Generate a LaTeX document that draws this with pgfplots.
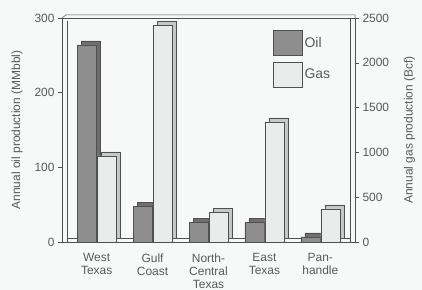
\documentclass[border=0pt]{standalone}
\usepackage{pgfplots}
\pgfplotsset{compat=1.18}
\usepackage{fontspec}
\setmainfont{Liberation Sans}
\definecolor{txt}{HTML}{5A5A5A}
\definecolor{oilc}{HTML}{8E8E8E}
\definecolor{oilside}{HTML}{6E6E6E}
\definecolor{gasc}{HTML}{E8ECEA}
\definecolor{gasside}{HTML}{C4C8C6}
\definecolor{bg}{HTML}{F6F9F7}
\definecolor{edge}{HTML}{505050}
\begin{document}
\begin{tikzpicture}
\fill[bg] (-62bp,-48bp) rectangle (360bp,242bp);
\path[use as bounding box] (-62bp,-48bp) rectangle (360bp,242bp);
\pgfplotsset{
  common/.style={
    at={(0,0)}, anchor=south west,
    width=293bp, height=224bp, scale only axis,
    xmin=-0.62, xmax=4.62, ymin=0,
    xtick={0,1,2,3,4}, clip=false,
    axis line style={edge, line width=0.8pt},
    tick style={edge, line width=0.6pt},
    tick align=outside,
    major tick length=4bp,
    ticklabel style={font=\fontsize{12}{13}\selectfont, text=txt},
    label style={font=\fontsize{12}{13}\selectfont, text=txt},
    /pgf/number format/assume math mode=true,
    /pgf/number format/1000 sep={},
    ybar, bar width=19bp,
  }
}
\begin{axis}[common,
  ymax=300, ytick={0,100,200,300},
  axis y line*=left, axis x line*=bottom,
  xtick style={draw=none},
  xticklabels={West\\Texas, Gulf\\Coast, North-\\Central\\Texas, East\\Texas, Pan-\\handle},
  xticklabel style={align=center, font=\fontsize{12}{13}\selectfont, text=txt, yshift=-4bp},
  ylabel={Annual oil production (MMbbl)},
  ylabel style={yshift=5bp},
]
\draw[edge, line width=0.5pt] ([xshift=5bp]rel axis cs:0,0) -- ([xshift=5bp,yshift=-3bp]rel axis cs:0,1);
\draw[edge, line width=0.5pt] ([xshift=5bp,yshift=4bp]rel axis cs:0,0) -- ([xshift=-5bp,yshift=4bp]rel axis cs:1,0);
\draw[edge, line width=0.5pt] (rel axis cs:0,1) -- ([xshift=4bp,yshift=3bp]rel axis cs:0,1) -- ([yshift=3bp]rel axis cs:1,1) -- (rel axis cs:1,1);
\addplot[fill=oilside, draw=edge, line width=0.4pt, bar shift=-6bp, yshift=4bp] coordinates {(0,264) (1,48) (2,26) (3,26) (4,7)};
\addplot[fill=oilc, draw=edge, line width=0.4pt, bar shift=-10bp] coordinates {(0,264) (1,48) (2,26) (3,26) (4,7)};
\end{axis}
\begin{axis}[common,
  ymax=2500, ytick={0,500,1000,1500,2000,2500},
  axis y line*=right, axis x line*=top,
  xticklabels={}, xtick style={draw=none},
  ylabel={Annual gas production (Bcf)},
  ylabel style={yshift=-8bp},
  legend style={at={(0.71,0.955)}, anchor=north west, draw=none, fill=none,
    font=\fontsize{14}{16}\selectfont, text=txt, row sep=6bp,
    /tikz/every even column/.append style={column sep=4bp}},
  legend cell align=left,
  legend image code/.code={\draw[#1] (0bp,-12bp) rectangle (29bp,13bp);},
]
\draw[edge, line width=0.5pt] ([xshift=-5bp]rel axis cs:1,0) -- ([xshift=-5bp]rel axis cs:1,1);
\addlegendimage{fill=oilc, draw=edge}
\addlegendentry{Oil}
\addplot[fill=gasside, draw=edge, line width=0.4pt, bar shift=14bp, yshift=4bp, forget plot] coordinates {(0,960) (1,2420) (2,330) (3,1340) (4,370)};
\addplot[fill=gasc, draw=edge, line width=0.4pt, bar shift=10bp] coordinates {(0,960) (1,2420) (2,330) (3,1340) (4,370)};
\addlegendentry{Gas}
\end{axis}
\end{tikzpicture}
\end{document}
